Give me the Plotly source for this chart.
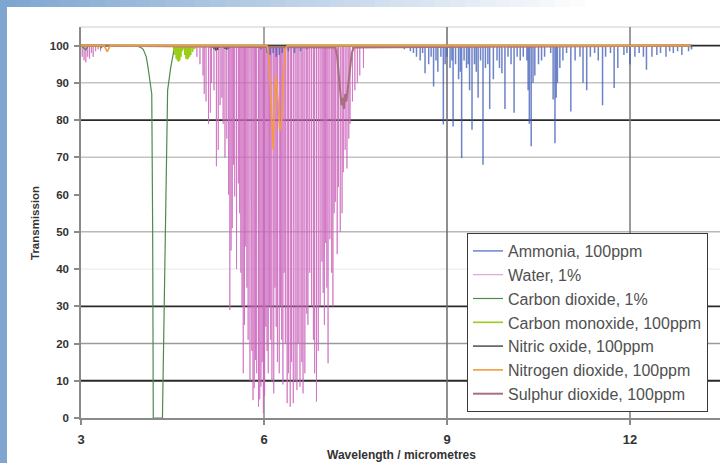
import plotly.graph_objects as go

# ---------------- data ----------------
# Water, 1% : absorption line centres (micrometres) and minimum transmission (%)
water_wl = [3.02, 3.05, 3.08, 3.11, 3.14, 3.17, 3.20, 3.24, 3.28, 3.32,
            4.90, 4.95, 5.00, 5.02, 5.05, 5.09, 5.12, 5.14, 5.18, 5.22,
            5.25, 5.28, 5.31, 5.33, 5.36, 5.39, 5.42, 5.44, 5.46, 5.48,
            5.50, 5.52, 5.55, 5.58, 5.60, 5.62, 5.64, 5.66, 5.68, 5.70,
            5.72, 5.74, 5.77, 5.79, 5.80, 5.82, 5.84, 5.86, 5.88, 5.91,
            5.93, 5.95, 5.97, 5.99, 6.01, 6.03, 6.05, 6.07, 6.09, 6.11,
            6.13, 6.16, 6.18, 6.20, 6.22, 6.25, 6.27, 6.29, 6.31, 6.33,
            6.35, 6.38, 6.40, 6.43, 6.45, 6.48, 6.51, 6.54, 6.56, 6.59,
            6.62, 6.64, 6.67, 6.70, 6.72, 6.75, 6.78, 6.81, 6.83, 6.86,
            6.89, 6.92, 6.95, 6.97, 6.99, 7.01, 7.03, 7.05, 7.08, 7.11,
            7.13, 7.15, 7.17, 7.20, 7.22, 7.25, 7.28, 7.30, 7.33, 7.36,
            7.39, 7.41, 7.45, 7.49, 7.53, 7.57, 7.63]
water_tr = [97, 96, 95.5, 97, 96.5, 98, 97, 98.5, 99, 98.5,
            97, 95, 92, 87, 85, 79, 82, 90, 88, 67.6,
            72, 84, 86, 79, 70, 75, 60, 29, 45, 51,
            68, 59.5, 40, 63, 55, 39, 30, 12, 25, 46,
            35, 21, 10, 28, 18, 4.8, 8, 15.6, 12, 3,
            5, 8.4, 15, 1.3, 6, 24.5, 18, 12, 30, 21,
            10, 6.6, 35, 24.5, 15, 12, 30, 21, 9, 39,
            20, 4, 12, 3, 15, 4, 10, 7.5, 20, 8.4,
            15, 6.6, 12, 28, 25, 39, 30, 21, 12, 4.4,
            18, 30, 42, 33.6, 25, 47, 35, 14.7, 48, 39,
            30, 55, 58, 44, 62, 50, 55, 66, 72, 67,
            75, 79, 85, 88, 90, 92, 94]

# Ammonia, 100ppm : line centres and minimum transmission
ammonia_wl = [5.95, 6.05, 6.10, 6.15, 6.20, 6.25, 6.30, 6.40, 6.50, 6.60, 6.70,
              8.20, 8.30, 8.40, 8.45, 8.50, 8.56, 8.60, 8.64, 8.70, 8.74, 8.78,
              8.82, 8.85, 8.90, 8.94, 8.97, 9.00, 9.05, 9.08, 9.10, 9.14, 9.19,
              9.22, 9.24, 9.28, 9.32, 9.35, 9.37, 9.41, 9.45, 9.48, 9.51, 9.55,
              9.59, 9.63, 9.67, 9.70, 9.76, 9.82, 9.86, 9.90, 9.95, 10.00, 10.05,
              10.10, 10.15, 10.20, 10.25, 10.31, 10.33, 10.35, 10.38, 10.41, 10.44,
              10.50, 10.55, 10.60, 10.70, 10.74, 10.77, 10.79, 10.81, 10.85, 10.90,
              10.96, 11.03, 11.10, 11.18, 11.23, 11.29, 11.35, 11.42, 11.48, 11.55,
              11.60, 11.68, 11.74, 11.80, 11.90, 11.95, 12.00, 12.08, 12.15, 12.22,
              12.27, 12.36, 12.44, 12.50, 12.59, 12.65, 12.71, 12.78, 12.85, 12.96,
              13.01]
ammonia_tr = [99, 98, 97.5, 98, 97, 97.5, 98, 98.5, 98, 98.5, 99,
              99.5, 99, 98.5, 98, 97, 96, 98, 92.6, 95, 97, 89,
              96, 93, 97, 78.8, 95, 97, 94, 96, 78.3, 95, 91,
              93, 69.8, 96, 94, 95, 88, 77.4, 95, 93, 86, 96,
              68, 94, 95, 83, 91, 96, 94, 92.6, 83, 97, 95,
              82, 97, 96, 97, 96, 88, 79, 73, 90, 92,
              95, 96, 97, 98, 85.5, 73.8, 86, 90, 94, 96,
              98, 82.3, 96, 97, 90, 88, 97, 98, 96, 84,
              97, 98, 88.6, 94, 97.5, 98, 95, 97, 98, 97,
              93.5, 97, 97.5, 98, 97, 98.5, 98, 98.5, 97.5, 98.5,
              99]

# Carbon dioxide, 1% : transmission profile
co2_wl = [3.00, 3.05, 3.08, 3.12, 3.30, 3.33, 3.36, 3.90, 3.97, 4.02, 4.07,
          4.10, 4.14, 4.16, 4.175, 4.185, 4.335, 4.38, 4.42, 4.47, 4.52, 4.58, 13.0]
co2_tr = [100, 99.2, 98.9, 100, 100, 99.4, 100, 100, 99.6, 99, 97,
          94, 90, 87, 50, 0, 0, 52, 88, 94, 98.5, 100, 100]

# Carbon monoxide, 100ppm : line centres and minimum transmission
co_wl = [4.52, 4.54, 4.56, 4.58, 4.60, 4.62, 4.64, 4.66, 4.68, 4.70,
         4.72, 4.74, 4.76, 4.78, 4.80, 4.83, 4.86, 4.89]
co_tr = [98.5, 97.5, 96.5, 96, 95.7, 96, 97, 98.5, 99, 97.5,
         96.5, 96.3, 96.5, 97, 97.5, 98.3, 99, 99.5]

# Nitric oxide, 100ppm : line centres and minimum transmission
no_wl = [5.15, 5.18, 5.21, 5.24, 5.27, 5.33, 5.36, 5.39, 5.42, 5.46]
no_tr = [99.5, 99, 98.6, 98.8, 99.4, 99.5, 99.1, 98.9, 99.2, 99.6]

# Nitrogen dioxide, 100ppm : transmission profile
no2_wl = [3.00, 3.38, 3.43, 3.48, 6.05, 6.08, 6.10, 6.13, 6.15, 6.17,
          6.20, 6.23, 6.26, 6.29, 6.32, 6.35, 6.38, 13.0]
no2_tr = [100, 100, 98.4, 100, 100, 97, 90, 80, 72, 85,
          92, 85, 77, 80, 92, 99, 100, 100]

# Sulphur dioxide, 100ppm : transmission profile
so2_wl = [3.00, 7.17, 7.20, 7.23, 7.25, 7.27, 7.29, 7.31, 7.33, 7.35,
          7.37, 7.39, 7.41, 7.44, 7.47, 13.0]
so2_tr = [100, 99.5, 97, 92, 88, 84, 86, 83, 87, 85,
          88, 91, 95, 98, 99.5, 100]

x_ticks = [3, 6, 9, 12]
y_ticks = [0, 10, 20, 30, 40, 50, 60, 70, 80, 90, 100]

names = ["Ammonia, 100ppm", "Water, 1%", "Carbon dioxide, 1%",
         "Carbon monoxide, 100ppm", "Nitric oxide, 100ppm",
         "Nitrogen dioxide, 100ppm", "Sulphur dioxide, 100ppm"]


def spikes(wl, tr, start=3.0, end=13.0, base=100):
    xs, ys = [start], [base]
    for c, v in zip(wl, tr):
        xs += [c, c, c]
        ys += [base, v, base]
    xs.append(end)
    ys.append(base)
    return xs, ys


# ---------------- geometry ----------------
W, H = 720, 463
L, R, T, B = 81, 0, 27, 45
PW, PH = W - L - R, H - T - B
XMIN, XPX = 3.0, 61.0
XMAX = XMIN + PW / XPX


def px(xp):
    return (xp - L) / PW


def py(yp):
    return (H - B - yp) / PH


fig = go.Figure()

wx, wy = spikes(water_wl, water_tr)
ax_, ay_ = spikes(ammonia_wl, ammonia_tr)
cox, coy = spikes(co_wl, co_tr)
nox, noy = spikes(no_wl, no_tr)

traces = [
    (wx, wy, names[1], "rgba(205,105,190,0.72)", 1.0, 2),
    (ax_, ay_, names[0], "rgba(60,90,180,0.75)", 1.5, 1),
    (co2_wl, co2_tr, names[2], "#4e8a4e", 1.2, 3),
    (cox, coy, names[3], "#9acd1a", 1.6, 4),
    (nox, noy, names[4], "#404040", 1.4, 5),
    (so2_wl, so2_tr, names[6], "#a8707e", 2.0, 7),
    (no2_wl, no2_tr, names[5], "#f59a40", 1.6, 6),
]
for xs, ys, nm, col, w, rank in traces:
    fig.add_trace(go.Scatter(x=xs, y=ys, mode="lines", name=nm,
                             line=dict(color=col, width=w),
                             legendrank=rank, hoverinfo="skip"))

shapes = []
# frame bands (left solid, top gradient)
shapes.append(dict(type="rect", xref="paper", yref="paper",
                   x0=px(0), x1=px(7), y0=py(H), y1=py(0),
                   fillcolor="rgb(127,166,209)", line_width=0, layer="below"))
n = 40
for i in range(n):
    f = i / (n - 1)
    r = int(127 + (255 - 127) * f)
    g = int(166 + (255 - 166) * f)
    b = int(209 + (255 - 209) * f)
    shapes.append(dict(type="rect", xref="paper", yref="paper",
                       x0=px(600 * i / n), x1=px(600 * (i + 1) / n + 1),
                       y0=py(7), y1=py(0),
                       fillcolor=f"rgb({r},{g},{b})", line_width=0, layer="below"))

# horizontal grid lines with varying strength
grid_style = {100: ("#2a2a2a", 1.8), 90: ("#c4c4c4", 1.5), 80: ("#2a2a2a", 1.8),
              70: ("#c4c4c4", 1.5), 50: ("#b8b8b8", 1.5), 40: ("#ececec", 1.2),
              30: ("#2a2a2a", 1.8), 20: ("#9a9a9a", 1.5), 10: ("#2a2a2a", 1.8)}
for yv, (col, wd) in grid_style.items():
    shapes.append(dict(type="line", xref="paper", yref="y", x0=0, x1=1,
                       y0=yv, y1=yv, line=dict(color=col, width=wd), layer="below"))
shapes.append(dict(type="line", xref="paper", yref="paper", x0=0, x1=1,
                   y0=1, y1=1, line=dict(color="#dedede", width=1.5), layer="below"))
for xv, col in [(6, "#8a8a8a"), (9, "#6a6a6a"), (12, "#7a7a7a")]:
    shapes.append(dict(type="line", xref="x", yref="paper", x0=xv, x1=xv,
                       y0=0, y1=1, line=dict(color=col, width=1.5), layer="below"))

fig.update_layout(
    width=W, height=H,
    margin=dict(l=L, r=R, t=T, b=B, pad=0),
    paper_bgcolor="white", plot_bgcolor="white",
    shapes=shapes,
    showlegend=True,
    legend=dict(x=px(467), y=py(233), xanchor="left", yanchor="top",
                bgcolor="white", bordercolor="#3a3a3a", borderwidth=1,
                font=dict(family="Liberation Sans, Arial", size=16, color="#505050"),
                tracegroupgap=0, itemwidth=30),
    xaxis=dict(range=[XMIN, XMAX], tickvals=x_ticks, ticktext=[str(t) for t in x_ticks],
               showgrid=False, zeroline=False, showline=True,
               linecolor="#8a8a8a", linewidth=1.5,
               ticks="outside", ticklen=5, tickcolor="#8a8a8a", tickwidth=1.5,
               tickfont=dict(family="Liberation Sans, Arial", size=13, color="#333333",
                             weight="bold"),
               ticklabelstandoff=4),
    yaxis=dict(range=[0, 105], tickvals=y_ticks, ticktext=[str(t) for t in y_ticks],
               showgrid=False, zeroline=False, showline=True,
               linecolor="#8a8a8a", linewidth=1.5,
               ticks="outside", ticklen=5, tickcolor="#8a8a8a", tickwidth=1.5,
               tickfont=dict(family="Liberation Sans, Arial", size=11.5, color="#333333",
                             weight="bold"),
               ticklabelstandoff=3),
    annotations=[
        dict(text="Transmission", xref="paper", yref="paper", x=px(35), y=py(223),
             textangle=-90, showarrow=False, xanchor="center", yanchor="middle",
             font=dict(family="Liberation Sans, Arial", size=11.5, color="#333333",
                       weight="bold")),
        dict(text="Wavelength / micrometres", xref="paper", yref="paper",
             x=px(401), y=py(455), showarrow=False, xanchor="center", yanchor="middle",
             font=dict(family="Liberation Sans, Arial", size=12, color="#333333",
                       weight="bold")),
    ],
)

fig.write_html("out.html",
               config={"displayModeBar": False},
               post_script="document.body.style.margin='0';"
                           "document.body.style.overflow='hidden';")
